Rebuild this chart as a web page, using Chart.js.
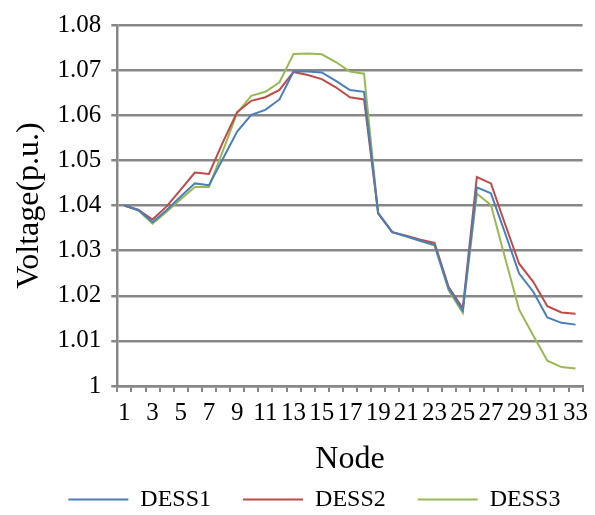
<!DOCTYPE html>
<html lang="en">

<head>
  <meta charset="UTF-8">
  <title> Node voltage </title>
  <style>
    body { margin: 0; background: #fff; }
  </style>
</head>

<body>
  <canvas id="myChart" width="595" height="515"></canvas>
  <script src="https://cdn.jsdelivr.net/npm/chart.js"></script>
  <script>

    const nodes = ['1', '2', '3', '4', '5', '6', '7', '8', '9', '10', '11', '12', '13', '14', '15', '16', '17',
      '18', '19', '20', '21', '22', '23', '24', '25', '26', '27', '28', '29', '30', '31', '32', '33']

    const dess1 = [1.0400, 1.0390, 1.0363, 1.0390, 1.0420, 1.0449, 1.0445, 1.0504, 1.0564, 1.0601, 1.0612,
      1.0635, 1.0697, 1.0697, 1.0695, 1.0676, 1.0656, 1.0652, 1.0383, 1.0341, 1.0332, 1.0322, 1.0313,
      1.0216, 1.0167, 1.0440, 1.0427, 1.0339, 1.0249, 1.0209, 1.0152, 1.0140, 1.0136]

    const dess2 = [1.0400, 1.0390, 1.0369, 1.0398, 1.0435, 1.0473, 1.0470, 1.0541, 1.0607, 1.0632, 1.0640,
      1.0656, 1.0696, 1.0689, 1.0680, 1.0662, 1.0640, 1.0635, 1.0383, 1.0341, 1.0333, 1.0324, 1.0317,
      1.0219, 1.0172, 1.0463, 1.0449, 1.0359, 1.0271, 1.0231, 1.0177, 1.0163, 1.0160]

    const dess3 = [1.0400, 1.0389, 1.0360, 1.0386, 1.0414, 1.0441, 1.0441, 1.0522, 1.0605, 1.0643, 1.0652,
      1.0673, 1.0736, 1.0737, 1.0735, 1.0718, 1.0697, 1.0692, 1.0382, 1.0341, 1.0331, 1.0321, 1.0311,
      1.0212, 1.0162, 1.0426, 1.0401, 1.0284, 1.0169, 1.0112, 1.0056, 1.0042, 1.0039]

    const yTicks = [1, 1.01, 1.02, 1.03, 1.04, 1.05, 1.06, 1.07, 1.08]
    const yTickLabels = ['1', '1.01', '1.02', '1.03', '1.04', '1.05', '1.06', '1.07', '1.08']

    const serif = 'Liberation Serif'
    const gridColor = '#878787'

    const ctx = document.getElementById('myChart');

    new Chart(ctx, {
      type: 'line',
      data: {
        labels: nodes,
        datasets: [
          { label: 'DESS1', data: dess1, borderColor: '#4A7EBB', backgroundColor: '#4A7EBB', borderWidth: 2 },
          { label: 'DESS2', data: dess2, borderColor: '#BE4B48', backgroundColor: '#BE4B48', borderWidth: 2 },
          { label: 'DESS3', data: dess3, borderColor: '#98B954', backgroundColor: '#98B954', borderWidth: 2 },
        ]
      },
      options: {
        responsive: false,
        animation: false,
        elements: {
          point: { radius: 0 },
          line: { tension: 0 }
        },
        layout: {
          // left padding only shifts the legend row, the y axis width below makes up for it
          padding: { left: 33.8, right: 0, top: 22, bottom: -6.5 }
        },
        plugins: {
          tooltip: { enabled: false },
          legend: {
            position: 'bottom',
            labels: {
              usePointStyle: true,
              pointStyle: 'line',
              pointStyleWidth: 60,
              padding: 32,
              color: '#000',
              font: { family: serif, size: 24 }
            }
          }
        },
        scales: {
          x: {
            offset: true,
            afterFit: function (scale) {
              scale.height = 69.5
              scale.paddingRight = 12.4
            },
            grid: {
              offset: true,
              drawOnChartArea: false,
              tickLength: 6,
              color: gridColor,
              lineWidth: 2
            },
            border: { color: gridColor, width: 2.5 },
            ticks: {
              autoSkip: false,
              maxRotation: 0,
              padding: 6,
              color: '#000',
              font: { family: serif, size: 25 },
              callback: function (value, index) {
                return index % 2 === 0 ? nodes[index] : ''
              }
            },
            title: {
              display: true,
              text: 'Node',
              color: '#000',
              font: { family: serif, size: 32 },
              padding: { top: 0, bottom: -23.5 }
            }
          },
          y: {
            min: 1,
            max: 1.08,
            afterFit: function (scale) { scale.width = 83.5 },
            afterBuildTicks: function (scale) {
              scale.ticks = yTicks.map(function (v) { return { value: v } })
            },
            grid: {
              tickLength: 6,
              color: gridColor,
              lineWidth: 2.5
            },
            border: { color: gridColor, width: 2.5 },
            ticks: {
              padding: 10,
              color: '#000',
              font: { family: serif, size: 25 },
              callback: function (value, index) {
                return yTickLabels[index]
              }
            },
            title: {
              display: true,
              text: 'Voltage(p.u.)',
              color: '#000',
              font: { family: serif, size: 32 },
              padding: { top: -23.5, bottom: 0 }
            }
          }
        }
      }
    });

  </script>
</body>

</html>
